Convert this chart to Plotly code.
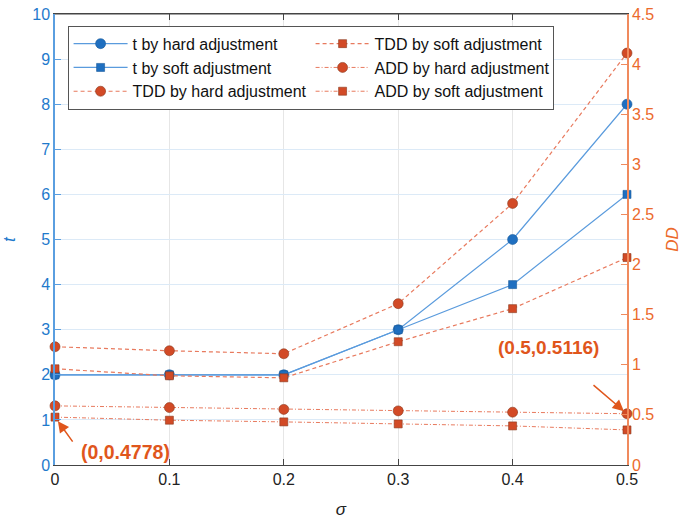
import plotly.graph_objects as go

sigma = [0, 0.1, 0.2, 0.3, 0.4, 0.5]
t_hard = [2, 2, 2, 3, 5, 8]
t_soft = [2, 2, 2, 3, 4, 6]
tdd_hard = [1.18, 1.14, 1.11, 1.61, 2.61, 4.11]
tdd_soft = [0.96, 0.89, 0.87, 1.23, 1.56, 2.07]
add_hard = [0.59, 0.573, 0.555, 0.54, 0.527, 0.5116]
add_soft = [0.4778, 0.447, 0.43, 0.41, 0.39, 0.35]
left_ticks = list(range(0, 11))
right_ticks = [0, 0.5, 1, 1.5, 2, 2.5, 3, 3.5, 4, 4.5]
x_ticks = [0, 0.1, 0.2, 0.3, 0.4, 0.5]

BLUE_M = "#1F6FC0"
BLUE_L = "#5A9BDD"
RED_M = "#D24A26"
RED_L = "#E87A5E"
LBLUE = "#1F7ACC"
ORANGE = "#EC6A2C"
ANN = "#E0561C"
FONT = "Liberation Sans"

fig = go.Figure()

def add(y, name, color_l, color_m, dash, width, symbol, size, yaxis, rank):
    fig.add_trace(go.Scatter(
        x=sigma, y=y, name=name, mode="lines+markers", yaxis=yaxis,
        line=dict(color=color_l, width=width, dash=dash),
        marker=dict(symbol=symbol, size=size, color=color_m,
                    line=dict(color="#8A3A20" if color_m == RED_M else "#1A5A9A", width=0.6)),
        legendrank=rank, cliponaxis=False))

add(tdd_hard, "TDD by hard adjustment", RED_L, RED_M, "4px,3px", 1.2, "circle", 10, "y2", 5)
add(tdd_soft, "TDD by soft adjustment", RED_L, RED_M, "4px,3px", 1.2, "square", 8, "y2", 2)
add(add_hard, "ADD by hard adjustment", RED_L, RED_M, "4px,2px,1px,2px", 1, "circle", 10, "y2", 4)
add(add_soft, "ADD by soft adjustment", RED_L, RED_M, "4px,2px,1px,2px", 1, "square", 8, "y2", 6)
add(t_hard, "t by hard adjustment", BLUE_L, BLUE_M, "solid", 1.2, "circle", 10, "y", 1)
add(t_soft, "t by soft adjustment", BLUE_L, BLUE_M, "solid", 1.2, "square", 8, "y", 3)

fig.update_layout(
    width=682, height=520,
    margin=dict(l=55, r=55, t=14, b=55),
    paper_bgcolor="white", plot_bgcolor="white",
    font=dict(family=FONT, size=16, color="#222222"),
    showlegend=True,
    legend=dict(
        orientation="h", x=0.022, y=0.974, xanchor="left", yanchor="top",
        entrywidth=173, bgcolor="white", bordercolor="#555555", borderwidth=1,
        font=dict(family=FONT, size=16, color="#111111"),
        itemwidth=54, tracegroupgap=0,
    ),
    xaxis=dict(
        range=[0, 0.5], tickvals=x_ticks, ticktext=[str(v) for v in x_ticks],
        showgrid=True, gridcolor="#E6E6E6", gridwidth=1, automargin=False,
        showline=True, linecolor="#444444", linewidth=1, mirror="ticks",
        ticks="inside", ticklen=6, tickcolor="#444444", zeroline=False,
        tickfont=dict(size=16, color="#222222"),
        title=dict(text="<i>σ</i>", font=dict(size=17, color="#222222")),
    ),
    yaxis=dict(
        range=[0, 10], tickvals=left_ticks, automargin=False,
        showgrid=True, gridcolor="#DCEAF7", gridwidth=1,
        showline=True, linecolor="#5A9EE0", linewidth=1.5,
        ticks="inside", ticklen=6, tickcolor="#5A9EE0", zeroline=False,
        tickfont=dict(size=16, color=LBLUE),
        title=dict(text="<i>t</i>", font=dict(size=17, color=LBLUE)),
    ),
    yaxis2=dict(
        range=[0, 4.5], tickvals=right_ticks, automargin=False,
        ticktext=[("%g" % v) for v in right_ticks],
        overlaying="y", side="right", showgrid=False,
        showline=True, linecolor="#F08A5D", linewidth=1.5,
        ticks="inside", ticklen=6, tickcolor="#F08A5D", zeroline=False,
        tickfont=dict(size=16, color=ORANGE),
        title=dict(text="<i>DD</i>", font=dict(size=17, color=ORANGE)),
    ),
)

# top border line
fig.add_shape(type="line", xref="paper", yref="paper", x0=0, x1=1, y0=1, y1=1,
              line=dict(color="#444444", width=1))

# annotation texts and arrows
fig.add_annotation(x=0, y=add_soft[0], xref="x", yref="y2", text="<b>(0,0.4778)</b>",
                   showarrow=False, xshift=70, yshift=-35,
                   font=dict(family=FONT, size=19.5, color=ANN))
fig.add_annotation(x=0, y=add_soft[0], xref="x", yref="y2", text="",
                   font=dict(size=1), borderpad=0,
                   showarrow=True, arrowhead=2, arrowsize=1.5, arrowwidth=1.5,
                   arrowcolor=ANN, ax=18, ay=25, standoff=5)
fig.add_annotation(x=0.5, y=add_hard[5], xref="x", yref="y2", text="<b>(0.5,0.5116)</b>",
                   showarrow=False, xshift=-79, yshift=66,
                   font=dict(family=FONT, size=19, color=ANN))
fig.add_annotation(x=0.5, y=add_hard[5], xref="x", yref="y2", text="",
                   font=dict(size=1), borderpad=0,
                   showarrow=True, arrowhead=2, arrowsize=1.5, arrowwidth=1.5,
                   arrowcolor=ANN, ax=-34, ay=-29, standoff=4)

fig.write_html("out.html")
